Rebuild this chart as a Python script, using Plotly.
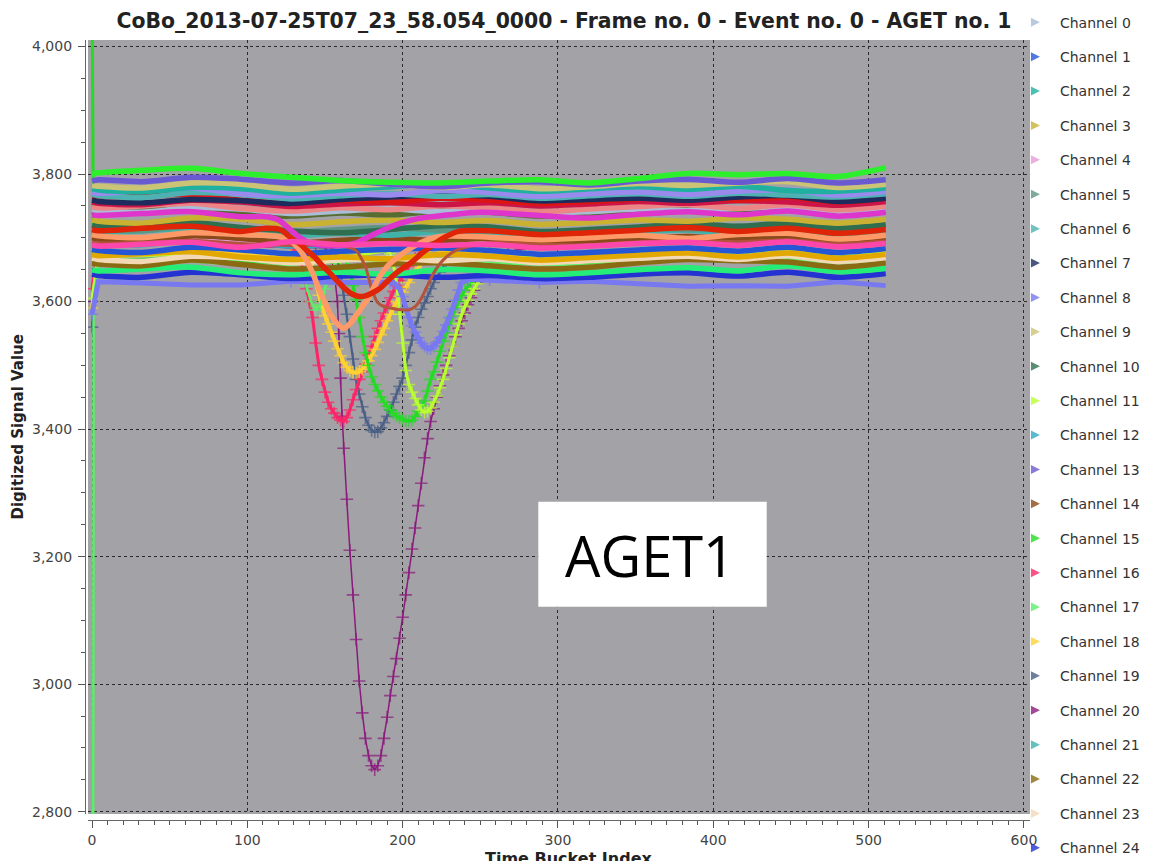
import plotly.graph_objects as go

# ---------------- data ----------------
# common sampling grid of time buckets for baseline channels
T = [0, 4, 32, 64, 96, 128, 160, 192, 224, 256, 288, 320, 352, 384, 416, 448, 480, 511]

ch0 = [3744, 3743, 3740, 3747, 3745, 3738, 3742, 3745, 3741, 3744, 3739, 3741, 3745, 3743, 3746, 3748, 3740, 3745]
ch1 = [3682, 3680, 3677, 3685, 3681, 3675, 3679, 3682, 3684, 3680, 3674, 3677, 3681, 3684, 3679, 3685, 3677, 3683]
ch2 = [3777, 3775, 3772, 3779, 3777, 3770, 3775, 3780, 3784, 3778, 3773, 3777, 3780, 3776, 3781, 3774, 3773, 3778]
ch3 = [3728, 3726, 3723, 3731, 3729, 3721, 3725, 3728, 3724, 3727, 3721, 3724, 3728, 3726, 3731, 3729, 3723, 3729]
ch4 = [3698, 3696, 3699, 3702, 3694, 3691, 3695, 3692, 3699, 3696, 3690, 3694, 3698, 3695, 3699, 3701, 3693, 3699]
ch5 = [3716, 3714, 3711, 3719, 3716, 3709, 3713, 3716, 3712, 3715, 3709, 3712, 3716, 3713, 3718, 3716, 3711, 3717]
ch6 = [3768, 3766, 3763, 3771, 3768, 3761, 3766, 3769, 3765, 3768, 3762, 3766, 3769, 3765, 3770, 3767, 3764, 3769]
ch7 = [3759, 3757, 3755, 3760, 3758, 3754, 3760, 3764, 3767, 3765, 3758, 3760, 3762, 3759, 3764, 3766, 3757, 3762]
ch9 = [3782, 3781, 3778, 3786, 3784, 3776, 3781, 3784, 3779, 3783, 3777, 3780, 3785, 3782, 3786, 3788, 3779, 3784]
ch10 = [3720, 3718, 3721, 3724, 3716, 3711, 3708, 3713, 3719, 3717, 3710, 3713, 3717, 3722, 3718, 3723, 3715, 3721]
ch12 = [3694, 3692, 3689, 3697, 3694, 3687, 3691, 3694, 3690, 3693, 3687, 3690, 3694, 3697, 3691, 3697, 3689, 3695]
ch13 = [3789, 3791, 3788, 3795, 3792, 3786, 3790, 3784, 3780, 3786, 3788, 3783, 3789, 3792, 3787, 3793, 3786, 3791]
ch14 = [3700, 3698, 3695, 3703, 3699, 3692, 3696, 3699, 3696, 3699, 3691, 3694, 3698, 3702, 3697, 3703, 3694, 3700]
ch21 = [3710, 3708, 3711, 3714, 3706, 3703, 3707, 3704, 3710, 3708, 3702, 3706, 3710, 3712, 3707, 3713, 3705, 3711]
ch22 = [3660, 3659, 3656, 3665, 3658, 3651, 3654, 3659, 3661, 3656, 3651, 3654, 3661, 3666, 3664, 3662, 3654, 3661]
ch23 = [3668, 3666, 3663, 3671, 3668, 3661, 3665, 3668, 3664, 3667, 3661, 3664, 3668, 3671, 3666, 3672, 3663, 3669]
ch24 = [3643, 3641, 3638, 3646, 3642, 3636, 3640, 3642, 3638, 3641, 3636, 3638, 3643, 3645, 3640, 3646, 3638, 3644]
ch25 = [3800, 3802, 3806, 3809, 3801, 3795, 3790, 3787, 3786, 3789, 3791, 3786, 3793, 3801, 3799, 3801, 3796, 3810]
ch26 = [3763, 3762, 3765, 3768, 3759, 3755, 3759, 3756, 3762, 3759, 3754, 3757, 3761, 3765, 3759, 3764, 3756, 3762]
ch27 = [3756, 3754, 3752, 3759, 3756, 3749, 3753, 3755, 3752, 3755, 3750, 3753, 3757, 3754, 3758, 3756, 3751, 3757]
ch28 = [3749, 3747, 3750, 3754, 3746, 3742, 3747, 3744, 3750, 3747, 3741, 3745, 3749, 3752, 3746, 3752, 3744, 3750]
ch29 = [3741, 3739, 3743, 3745, 3737, 3734, 3739, 3736, 3742, 3740, 3734, 3737, 3741, 3744, 3738, 3744, 3736, 3741]
ch33 = [3689, 3687, 3690, 3693, 3685, 3694, 3689, 3691, 3688, 3690, 3684, 3687, 3691, 3693, 3688, 3694, 3686, 3691]
ch34 = [3674, 3672, 3675, 3678, 3670, 3666, 3670, 3667, 3674, 3671, 3665, 3669, 3673, 3676, 3670, 3676, 3668, 3674]
ch35 = [3650, 3648, 3651, 3654, 3645, 3642, 3646, 3643, 3650, 3648, 3642, 3645, 3650, 3653, 3648, 3656, 3647, 3652]
ch36 = [3771, 3770, 3774, 3778, 3769, 3766, 3770, 3767, 3774, 3771, 3765, 3769, 3772, 3768, 3773, 3775, 3767, 3773]

# channels with a signal (their own time samples)
ch8_t = [0, 4, 32, 64, 96, 128, 160, 192, 194, 198, 200, 202, 204, 206, 208, 210, 212, 214, 216, 218, 220, 222,
         224, 226, 228, 230, 232, 234, 236, 238, 242, 256, 288, 320, 352, 384, 416, 448, 480, 511]
ch8_v = [3580, 3631, 3629, 3626, 3626, 3632, 3630, 3630, 3630, 3620, 3608, 3590, 3575, 3562, 3552, 3543, 3535, 3530,
         3526, 3526, 3530, 3536, 3543, 3553, 3563, 3575, 3588, 3602, 3618, 3630, 3635, 3634, 3630, 3632, 3628, 3624,
         3625, 3624, 3631, 3625]

ch11_t = [0, 4, 32, 64, 96, 128, 160, 190, 192, 194, 196, 198, 200, 202, 204, 206, 208, 210, 212, 214, 216, 218, 220,
          222, 224, 226, 228, 230, 232, 234, 236, 238, 240, 242, 244, 246, 248, 252, 256, 262, 270, 280, 320, 352, 384,
          416, 448, 480, 511]
ch11_v = [3605, 3671, 3672, 3675, 3670, 3667, 3668, 3680, 3675, 3660, 3630, 3580, 3535, 3492, 3470, 3458, 3448, 3438,
          3430, 3426, 3428, 3433, 3442, 3452, 3465, 3478, 3495, 3512, 3530, 3548, 3565, 3580, 3592, 3602, 3612, 3620,
          3628, 3640, 3650, 3660, 3668, 3672, 3670, 3675, 3677, 3675, 3678, 3672, 3676]

ch15_t = [0, 1, 4, 32, 64, 96, 128, 160, 164, 166, 168, 170, 172, 174, 176, 178, 180, 182, 184, 186, 188, 190, 192,
          194, 196, 198, 200, 202, 204, 206, 208, 210, 212, 214, 216, 218, 220, 222, 224, 226, 228, 230, 232, 234, 236,
          238, 240, 244, 248, 254, 260, 268, 276, 288, 320, 352, 384, 416, 448, 480, 511]
ch15_v = [4095, 3668, 3665, 3666, 3669, 3663, 3660, 3662, 3665, 3650, 3625, 3603, 3575, 3545, 3520, 3500, 3482, 3470,
          3460, 3450, 3442, 3436, 3430, 3425, 3421, 3418, 3415, 3413, 3412, 3414, 3420, 3428, 3437, 3444, 3460, 3478,
          3490, 3505, 3522, 3538, 3551, 3565, 3577, 3590, 3600, 3610, 3618, 3628, 3636, 3645, 3650, 3656, 3660, 3662,
          3660, 3665, 3668, 3666, 3669, 3662, 3666]

ch16_t = [0, 4, 32, 64, 96, 128, 132, 134, 136, 138, 140, 142, 144, 146, 148, 150, 152, 154, 156, 158, 160, 162, 164,
          166, 168, 170, 172, 174, 176, 178, 180, 182, 184, 186, 188, 190, 192, 194, 196, 198, 200, 204, 208, 212, 218,
          224, 256, 288, 320, 352, 384, 416, 448, 480, 511]
ch16_v = [3620, 3689, 3690, 3692, 3688, 3686, 3680, 3665, 3645, 3620, 3600, 3575, 3535, 3500, 3478, 3458, 3442, 3432,
          3425, 3418, 3414, 3412, 3418, 3430, 3446, 3462, 3478, 3490, 3502, 3516, 3530, 3545, 3558, 3570, 3582, 3594,
          3606, 3616, 3625, 3633, 3640, 3655, 3668, 3680, 3688, 3690, 3688, 3686, 3686, 3690, 3692, 3690, 3693, 3687,
          3690]

ch17_t = [0, 1, 4, 32, 64, 96, 128, 134, 138, 141, 144, 147, 150, 153, 157, 165, 192, 224, 256, 288, 320, 352, 384,
          416, 448, 480, 511]
ch17_v = [0, 3600, 3659, 3660, 3663, 3657, 3656, 3650, 3625, 3600, 3587, 3595, 3620, 3645, 3662, 3665, 3662, 3664,
          3661, 3658, 3657, 3662, 3665, 3663, 3667, 3660, 3664]

ch18_t = [0, 4, 32, 64, 96, 128, 136, 140, 142, 144, 146, 148, 150, 152, 154, 156, 158, 160, 162, 164, 166, 168, 170,
          172, 174, 176, 178, 180, 182, 184, 186, 188, 190, 192, 194, 196, 198, 200, 204, 208, 212, 218, 226, 256, 288,
          320, 352, 384, 416, 448, 480, 511]
ch18_v = [3590, 3676, 3677, 3680, 3675, 3672, 3678, 3668, 3650, 3630, 3610, 3592, 3578, 3565, 3552, 3538, 3526, 3515,
          3504, 3497, 3492, 3489, 3488, 3490, 3494, 3499, 3507, 3515, 3525, 3536, 3548, 3558, 3570, 3580, 3590, 3600,
          3608, 3615, 3630, 3645, 3660, 3670, 3678, 3675, 3672, 3671, 3676, 3679, 3677, 3680, 3674, 3678]

ch19_t = [0, 4, 32, 64, 96, 128, 154, 156, 158, 160, 162, 164, 166, 168, 170, 172, 174, 176, 178, 180, 182, 184, 186,
          188, 190, 192, 194, 196, 198, 200, 202, 204, 206, 208, 210, 212, 214, 216, 218, 220, 224, 228, 232, 238, 246,
          256, 288, 320, 352, 384, 416, 448, 480, 511]
ch19_v = [3560, 3689, 3690, 3692, 3688, 3685, 3685, 3678, 3668, 3645, 3610, 3580, 3545, 3510, 3478, 3455, 3435, 3418,
          3406, 3398, 3395, 3396, 3402, 3410, 3420, 3430, 3442, 3455, 3467, 3480, 3500, 3520, 3540, 3560, 3575, 3588,
          3598, 3608, 3620, 3630, 3646, 3662, 3675, 3684, 3690, 3691, 3688, 3687, 3691, 3693, 3691, 3694, 3688, 3692]

ch20_t = [0, 4, 32, 64, 96, 128, 144, 150, 154, 156, 158, 159, 160, 161, 162, 164, 166, 168, 170, 172, 174, 176, 178,
          180, 182, 184, 186, 188, 190, 192, 194, 196, 198, 200, 202, 204, 206, 208, 210, 212, 214, 216, 218, 220, 222,
          224, 226, 228, 230, 232, 234, 236, 238, 240, 242, 244, 246, 248, 250, 254, 258, 262, 268, 276, 288, 320, 352,
          384, 416, 448, 480, 511]
ch20_v = [3600, 3691, 3692, 3694, 3689, 3687, 3688, 3685, 3670, 3645, 3600, 3550, 3480, 3420, 3370, 3290, 3210, 3140,
          3070, 3005, 2955, 2915, 2888, 2872, 2866, 2872, 2888, 2915, 2948, 2982, 3012, 3040, 3072, 3105, 3140, 3175,
          3212, 3245, 3280, 3315, 3355, 3385, 3412, 3432, 3450, 3468, 3485, 3500, 3515, 3530, 3545, 3558, 3570, 3582,
          3595, 3606, 3618, 3630, 3640, 3652, 3662, 3668, 3676, 3682, 3688, 3690, 3694, 3696, 3694, 3697, 3691, 3694]

ch30_t = [0, 4, 32, 64, 96, 112, 120, 128, 134, 140, 150, 160, 170, 180, 190, 200, 210, 230, 250, 288, 320, 352, 384,
          416, 448, 480, 511]
ch30_v = [3736, 3735, 3738, 3741, 3733, 3733, 3728, 3712, 3700, 3692, 3688, 3688, 3692, 3704, 3715, 3724, 3730, 3736,
          3740, 3735, 3731, 3737, 3741, 3736, 3742, 3734, 3740]

ch31_t = [0, 4, 32, 64, 96, 112, 121, 128, 134, 138, 144, 148, 153, 158, 163, 168, 172, 176, 180, 186, 191, 196, 201,
          206, 212, 220, 228, 236, 256, 288, 320, 352, 384, 416, 448, 480, 511]
ch31_v = [3713, 3711, 3715, 3718, 3710, 3715, 3713, 3700, 3690, 3681, 3668, 3657, 3645, 3632, 3620, 3611, 3608, 3609,
          3613, 3622, 3634, 3645, 3654, 3662, 3675, 3690, 3702, 3710, 3711, 3705, 3708, 3712, 3716, 3710, 3715, 3707,
          3713]

ch32_t = [0, 4, 32, 64, 96, 120, 128, 134, 138, 142, 146, 150, 154, 158, 162, 166, 170, 174, 178, 182, 186, 190, 196,
          204, 214, 224, 256, 288, 320, 352, 384, 416, 448, 480, 511]
ch32_v = [3705, 3703, 3700, 3708, 3705, 3702, 3695, 3680, 3665, 3645, 3620, 3598, 3578, 3565, 3558, 3565, 3578, 3592,
          3606, 3625, 3642, 3655, 3668, 3682, 3695, 3702, 3701, 3697, 3700, 3704, 3699, 3705, 3707, 3698, 3704]

ch37_t = [0, 4, 32, 64, 96, 128, 160, 170, 176, 180, 184, 188, 192, 196, 200, 204, 208, 212, 216, 220, 226, 234, 256,
          288, 320, 352, 384, 416, 448, 480, 511]
ch37_v = [3693, 3692, 3693, 3696, 3691, 3688, 3688, 3680, 3655, 3620, 3598, 3592, 3590, 3588, 3587, 3587, 3592, 3605,
          3625, 3645, 3665, 3680, 3693, 3690, 3689, 3694, 3696, 3694, 3697, 3691, 3695]

# legend entries (channel number -> colour)
legend_channels = list(range(25))
colors = {
    0: "#a9bdd6", 1: "#2456d6", 2: "#1fb0a0", 3: "#c9b132", 4: "#e69ad6", 5: "#5e9482",
    6: "#4fb2b2", 7: "#1d2c5c", 8: "#7878f0", 9: "#cbc375", 10: "#2f6f4f", 11: "#b8ff30",
    12: "#32a8c4", 13: "#6a5ad2", 14: "#8b4a1a", 15: "#22dd22", 16: "#ff2468", 17: "#5cee6a",
    18: "#ffd232", 19: "#4a5f86", 20: "#8c1a7c", 21: "#3fb3a9", 22: "#8a6a12", 23: "#f2d8b4",
    24: "#2432d2",
    25: "#2cf02c", 26: "#dc1414", 27: "#cc1446", 28: "#ec8686", 29: "#566c30", 30: "#de36cc",
    31: "#e02408", 32: "#ff9a68", 33: "#ff46aa", 34: "#e2a800", 35: "#24ee78", 36: "#9a8aee",
    37: "#b4543c",
}

# line width of each channel that carries a signal
dip_width = {20: 1.5, 19: 2.2, 16: 3.0, 18: 3.8, 15: 3.0, 11: 3.0, 17: 2.5, 8: 5.0}

# ---------------- traces ----------------
series = [
    # (channel, t, values, style)  drawn in this order
    (20, ch20_t, ch20_v, "dip"),
    (19, ch19_t, ch19_v, "dip"),
    (16, ch16_t, ch16_v, "dip"),
    (18, ch18_t, ch18_v, "dip"),
    (15, ch15_t, ch15_v, "dip"),
    (11, ch11_t, ch11_v, "dip"),
    (17, ch17_t, ch17_v, "dip"),
    (8, ch8_t, ch8_v, "dip"),
    (24, T, ch24, "band"),
    (35, T, ch35, "band"),
    (22, T, ch22, "band"),
    (23, T, ch23, "band"),
    (34, T, ch34, "band"),
    (1, T, ch1, "band"),
    (12, T, ch12, "band"),
    (4, T, ch4, "band"),
    (14, T, ch14, "band"),
    (21, T, ch21, "band"),
    (5, T, ch5, "band"),
    (10, T, ch10, "band"),
    (3, T, ch3, "band"),
    (29, T, ch29, "band"),
    (0, T, ch0, "band"),
    (28, T, ch28, "band"),
    (27, T, ch27, "band"),
    (26, T, ch26, "band"),
    (7, T, ch7, "band"),
    (6, T, ch6, "band"),
    (36, T, ch36, "band"),
    (2, T, ch2, "band"),
    (9, T, ch9, "band"),
    (13, T, ch13, "band"),
    (25, T, ch25, "band"),
    (37, ch37_t, ch37_v, "mid"),
    (32, ch32_t, ch32_v, "band"),
    (31, ch31_t, ch31_v, "band"),
    (30, ch30_t, ch30_v, "band"),
    (33, T, ch33, "band"),
]


def marker_sizes(ts, size):
    # crosses are drawn where the samples are dense (signal region and the first bucket)
    return [size if (120 <= t <= 300 or t == 0) else 0 for t in ts]


fig = go.Figure()

for ch, t, v, style in series:
    assert len(t) == len(v), ch
    c = colors[ch]
    if style == "band":
        fig.add_trace(go.Scatter(x=t, y=v, mode="lines",
                                 line=dict(color=c, width=5.5, shape="spline", smoothing=0.8),
                                 showlegend=False, hoverinfo="skip"))
    elif style == "mid":
        fig.add_trace(go.Scatter(x=t, y=v, mode="lines",
                                 line=dict(color=c, width=3, shape="spline", smoothing=0.6),
                                 showlegend=False, hoverinfo="skip"))
    else:
        fig.add_trace(go.Scatter(x=t, y=v, mode="lines+markers", line=dict(color=c, width=dip_width[ch]),
                                 marker=dict(symbol="cross-thin", size=marker_sizes(t, 9), color=c,
                                             line=dict(width=1.6, color=c)),
                                 showlegend=False, hoverinfo="skip"))

# legend-only entries
for ch in legend_channels:
    fig.add_trace(go.Scatter(x=[None], y=[None], mode="markers", name=f"Channel {ch}",
                             legendgroup=f"g{ch}",
                             marker=dict(symbol="arrow-right", size=9, color=colors[ch], opacity=0.8)))

# AGET1 label box
fig.add_shape(type="rect", xref="paper", yref="paper", x0=0.4797, x1=0.7214, y0=0.2735, y1=0.4081,
              fillcolor="white", line=dict(width=0), layer="above")
fig.add_annotation(text="AGET1", xref="paper", yref="paper", x=0.5979, y=0.3397, showarrow=False,
                   xanchor="center", yanchor="middle",
                   font=dict(family="Open Sans", size=56, color="black"))

# axis titles (as in the reference, the x title is cut by the window edge)
fig.add_annotation(text="<b>Time Bucket Index</b>", xref="paper", yref="paper", x=0.5116, y=-0.0345,
                   xanchor="center", yanchor="top", showarrow=False,
                   font=dict(family="DejaVu Sans", size=16, color="#222"))
fig.add_annotation(text="<b>Digitized Signal Value</b>", xref="paper", yref="paper", x=-0.0709, y=0.5045,
                   xanchor="center", yanchor="middle", textangle=-90, showarrow=False,
                   font=dict(family="DejaVu Sans", size=15, color="#222"))

axis_common = dict(
    showgrid=True, gridcolor="#2a2a2a", griddash="dot", gridwidth=1.4,
    showline=True, linecolor="#666", linewidth=1.2,
    ticks="outside", ticklen=7, tickcolor="#555", tickwidth=1.2,
    zeroline=False, anchor="free", position=0,
    tickfont=dict(family="DejaVu Sans", size=14, color="#444"),
)

fig.update_xaxes(range=[-2.58, 603.9], tick0=0, dtick=100, ticklabelstandoff=0, domain=[0.0032, 1],
                 minor=dict(dtick=10, ticks="outside", ticklen=4, tickcolor="#555", showgrid=False),
                 **axis_common)
fig.update_yaxes(range=[2796.4, 4010.2], tick0=2800, dtick=200, tickformat=",d", ticklabelstandoff=3,
                 domain=[0.0077, 1],
                 minor=dict(dtick=50, ticks="outside", ticklen=4, tickcolor="#555", showgrid=False),
                 **axis_common)

fig.update_layout(
    width=1149, height=861,
    margin=dict(l=85, r=119, t=40, b=41, autoexpand=False),
    plot_bgcolor="#a3a2a7", paper_bgcolor="white",
    title=dict(text="<b>CoBo_2013-07-25T07_23_58.054_0000 - Frame no. 0 - Event no. 0 - AGET no. 1</b>",
               x=0.4909, xanchor="center", xref="container", y=0.9756, yanchor="middle", yref="container",
               font=dict(family="DejaVu Sans", size=20.4, color="#222")),
    legend=dict(x=0.8877, xanchor="left", xref="container", y=0.9923, yanchor="top", yref="container",
                traceorder="grouped", tracegroupgap=13.2, itemwidth=30,
                font=dict(family="DejaVu Sans", size=14, color="#333"),
                bgcolor="rgba(0,0,0,0)", maxheight=2000),
    showlegend=True,
)

fig.write_html("out.html")
